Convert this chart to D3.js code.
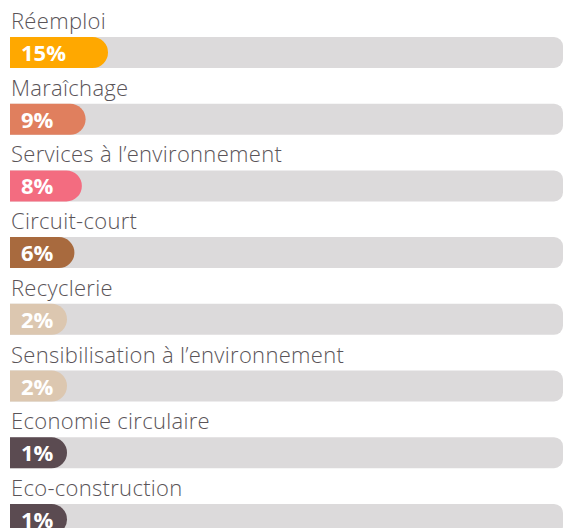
<!DOCTYPE html>
<html lang="fr">
<head>
    <meta charset="UTF-8">
    <title>Secteurs d'activité</title>
    <script src="https://d3js.org/d3.v7.min.js"></script>
    <style>
        body {
            margin: 0;
            background: #fff;
            font-family: "Open Sans", sans-serif;
        }
        .label {
            font-size: 22px;
            font-weight: 300;
            letter-spacing: 0.3px;
            fill: #5a5458;
        }
        .pct {
            font-size: 22px;
            font-weight: bold;
            fill: #fff;
        }
    </style>
</head>
<body>
    <div id="chart"></div>
    <script>
        const categories = [
            "Réemploi",
            "Maraîchage",
            "Services à l’environnement",
            "Circuit-court",
            "Recyclerie",
            "Sensibilisation à l’environnement",
            "Economie circulaire",
            "Eco-construction"
        ];
        const values = [15, 9, 8, 6, 2, 2, 1, 1];
        const colors = ["#ffa800", "#e07f5e", "#f36c80", "#a86a3e", "#dcc7b0", "#dcc7b0", "#5b4b51", "#5b4b51"];

        const data = categories.map((c, i) => ({ name: c, value: values[i], color: colors[i] }));

        const width = 563;
        const height = 528;
        const left = 10;
        const trackRight = 563;
        const barH = 31;

        const svg = d3.select("#chart")
            .append("svg")
            .attr("width", width)
            .attr("height", height);

        // one row per category (label + bar)
        const y = d3.scaleBand()
            .domain(categories)
            .range([0, 66.7 * categories.length]);

        // bar length; small shares keep room for their label
        const x = d3.scaleLinear()
            .domain([0, 15])
            .range([42, 98]);
        const minW = 57;

        // rect with square left side and rounded right side
        function rightRounded(x0, y0, w, h, r) {
            return `M${x0},${y0}H${x0 + w - r}A${r},${r} 0 0 1 ${x0 + w},${y0 + r}` +
                `V${y0 + h - r}A${r},${r} 0 0 1 ${x0 + w - r},${y0 + h}H${x0}Z`;
        }

        const row = svg.selectAll("g.row")
            .data(data)
            .enter()
            .append("g")
            .attr("class", "row")
            .attr("transform", d => `translate(0,${y(d.name)})`);

        row.append("text")
            .attr("class", "label")
            .attr("x", left + 1)
            .attr("y", 29)
            .text(d => d.name);

        row.append("path")
            .attr("d", rightRounded(left, 37, trackRight - left, barH, 9))
            .attr("fill", "#dcdadb");

        row.append("path")
            .attr("d", d => rightRounded(left, 37, Math.max(minW, x(d.value)), barH, barH / 2))
            .attr("fill", d => d.color);

        row.append("text")
            .attr("class", "pct")
            .attr("x", 21)
            .attr("y", 61)
            .text(d => d.value + "%");
    </script>
</body>
</html>
